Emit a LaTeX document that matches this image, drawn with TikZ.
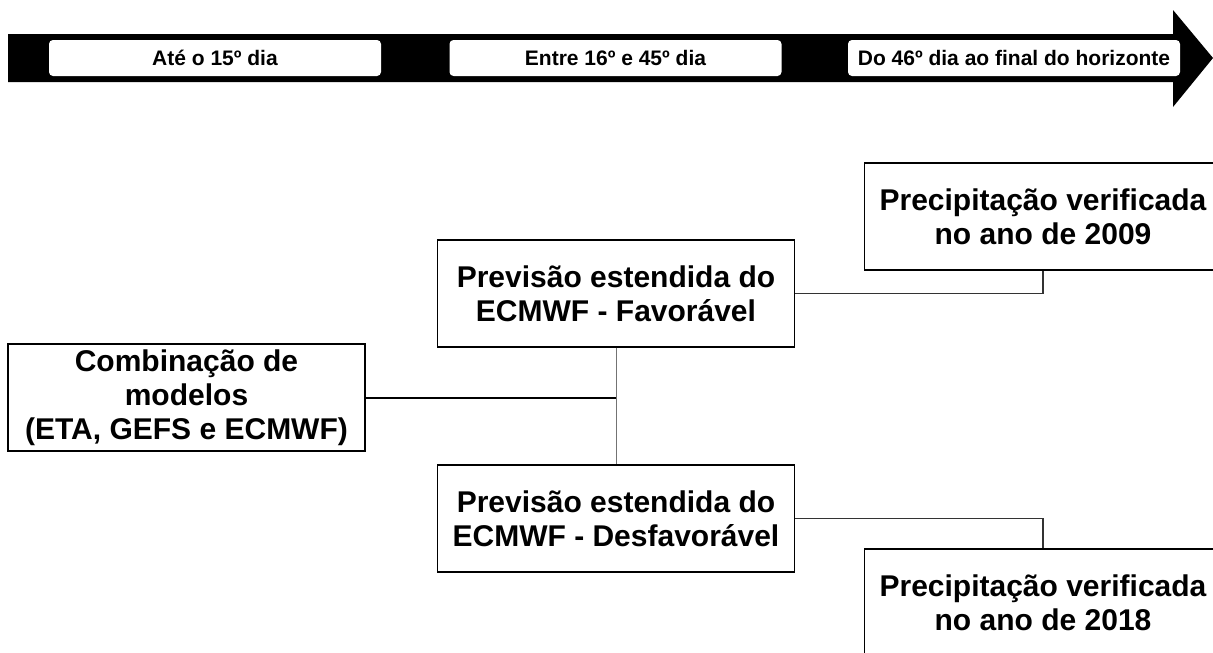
\documentclass[tikz,border=0pt]{standalone}
\usepackage{fontspec}
\setmainfont{Liberation Sans}
\begin{document}
\begin{tikzpicture}[x=1pt,y=-1pt,
  box/.style={draw=black, line width=1.3pt, fill=white, minimum width=357pt, minimum height=107pt, align=center, font=\fontsize{30}{34}\selectfont\bfseries, inner sep=0pt},
  lab/.style={fill=white, rounded corners=4pt, minimum width=332pt, minimum height=36pt, inner sep=0pt, font=\fontsize{21}{24}\selectfont\bfseries},
  conn/.style={line width=1.3pt, draw=black!80},
  thick conn/.style={line width=2pt, draw=black},
  thin conn/.style={line width=1pt, draw=black!55}]
\useasboundingbox (0,0) rectangle (1213,653);
\clip (0,0) rectangle (1213,653);
% timeline arrow
\fill[black] (8,34) -- (1173,34) -- (1173,10) -- (1213,58) -- (1173,107) -- (1173,82) -- (8,82) -- cycle;
\node[lab] (l1) at (215,58) {Até o 15º dia};
\node[lab] (l2) at (615.5,58) {Entre 16º e 45º dia};
\node[lab] (l3) at (1014,58) {Do 46º dia ao final do horizonte};
% boxes
\node[box] (comb) at (186.5,397.5) {Combinação de\\modelos\\(ETA, GEFS e ECMWF)};
\node[box] (fav) at (616,293.5) {Previsão estendida do\\ECMWF - Favorável};
\node[box] (desf) at (616,518.5) {Previsão estendida do\\ECMWF - Desfavorável};
\node[box] (p09) at (1043,216.5) {Precipitação verificada\\no ano de 2009};
\node[box] (p18) at (1043,602.5) {Precipitação verificada\\no ano de 2018};
% connectors
\coordinate (j) at (fav.south |- comb.east);
\draw[thin conn] (fav.south) -- (desf.north);
\draw[thick conn] (comb.east) -- (j);
\draw[conn] (fav.east) -| (p09.south);
\draw[conn] (desf.east) -| (p18.north);
\end{tikzpicture}
\end{document}
